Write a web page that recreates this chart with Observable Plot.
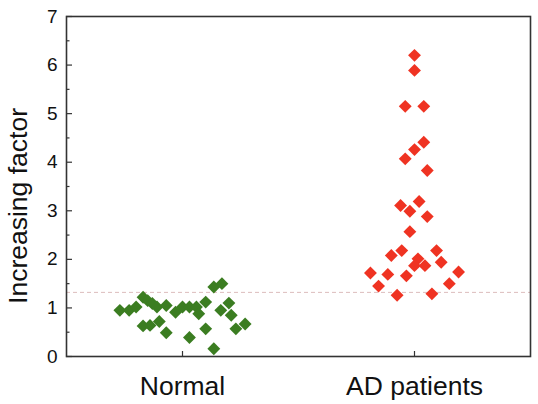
<!DOCTYPE html>
<html>
<head>
<meta charset="utf-8">
<script src="https://cdn.jsdelivr.net/npm/d3@7"></script>
<script src="https://cdn.jsdelivr.net/npm/@observablehq/plot@0.6"></script>
<style>
  html, body { margin: 0; padding: 0; background: #fff; }
</style>
</head>
<body>
<div id="chart"></div>
<script>
const categories = ["Normal", "AD patients"];
const yTicks = [0, 1, 2, 3, 4, 5, 6, 7];
const threshold = 1.32;

// Normal group: increasing factor values and horizontal jitter (category units)
const normalValues = [0.95, 0.95, 1.02, 1.22, 1.15, 1.09, 1.02, 1.05, 0.91, 1.02,
  1.02, 1.02, 0.88, 1.12, 1.43, 1.50, 0.95, 1.10, 0.85, 0.63,
  0.64, 0.72, 0.49, 0.39, 0.57, 0.16, 0.57, 0.67];
const normalJitter = [-0.27, -0.23, -0.20, -0.17, -0.15, -0.13, -0.11, -0.07, -0.03, 0.00,
  0.03, 0.06, 0.07, 0.10, 0.135, 0.17, 0.165, 0.20, 0.21, -0.17,
  -0.14, -0.10, -0.07, 0.03, 0.10, 0.135, 0.23, 0.27];

// AD patients group
const adValues = [6.20, 5.89, 5.15, 5.15, 4.41, 4.26, 4.07, 3.83, 3.11, 2.99,
  3.19, 2.88, 2.57, 2.08, 2.18, 2.18, 2.01, 1.87, 1.87, 1.94,
  1.72, 1.69, 1.66, 1.74, 1.50, 1.45, 1.26, 1.29];
const adJitter = [0.00, 0.00, -0.04, 0.04, 0.04, 0.00, -0.04, 0.055, -0.06, -0.02,
  0.02, 0.055, -0.02, -0.10, -0.055, 0.095, 0.015, 0.00, 0.045, 0.115,
  -0.19, -0.115, -0.035, 0.19, 0.15, -0.155, -0.075, 0.075];

const groupColors = ["#3b7d21", "#ef3322"];

const data = [
  ...normalValues.map((v, i) => ({group: categories[0], pos: 1 + normalJitter[i], value: v})),
  ...adValues.map((v, i) => ({group: categories[1], pos: 2 + adJitter[i], value: v}))
];

const font = "'Liberation Sans', Arial, Helvetica, sans-serif";

const chart = Plot.plot({
  width: 538,
  height: 404,
  marginLeft: 66,
  marginRight: 8,
  marginTop: 16,
  marginBottom: 48,
  style: {fontFamily: font, background: "#fff", color: "#111"},
  x: {domain: [0.5, 2.5], axis: null},
  y: {domain: [0, 7], axis: null},
  color: {domain: categories, range: groupColors},
  marks: [
    Plot.ruleY([threshold], {stroke: "#dcbcbc", strokeDasharray: "4,3", strokeWidth: 1}),
    Plot.dot(data, {x: "pos", y: "value", symbol: "diamond2", r: 5.8, fill: "group", stroke: "none"}),
    // y ticks (inside) and labels
    Plot.axisY({ticks: yTicks, tickSize: -6, text: null, label: null, stroke: "#333", strokeWidth: 1.2}),
    Plot.axisY({ticks: d3.range(0.5, 7, 1), tickSize: -3.5, text: null, label: null, stroke: "#333", strokeWidth: 1.2}),
    Plot.axisY({ticks: yTicks, tickSize: 0, tickPadding: 9, fontSize: 19, label: null, fill: "#111",
      tickFormat: d3.format("d")}),
    // x ticks (inside) and labels
    Plot.axisX({ticks: [1, 2], tickSize: -5, text: null, label: null, stroke: "#333", strokeWidth: 1.2}),
    Plot.axisX({ticks: [1, 2], tickSize: 0, tickPadding: 20, fontSize: 26.5, label: null, fill: "#111",
      tickFormat: d => categories[d - 1]}),
    Plot.text(["Increasing factor"], {frameAnchor: "left", textAnchor: "middle", lineAnchor: "middle",
      rotate: -90, dx: -48, dy: 19.5, fontSize: 26.5, fill: "#111"}),
    Plot.frame({stroke: "#333", strokeWidth: 1.6})
  ]
});

document.getElementById("chart").appendChild(chart);
</script>
</body>
</html>
